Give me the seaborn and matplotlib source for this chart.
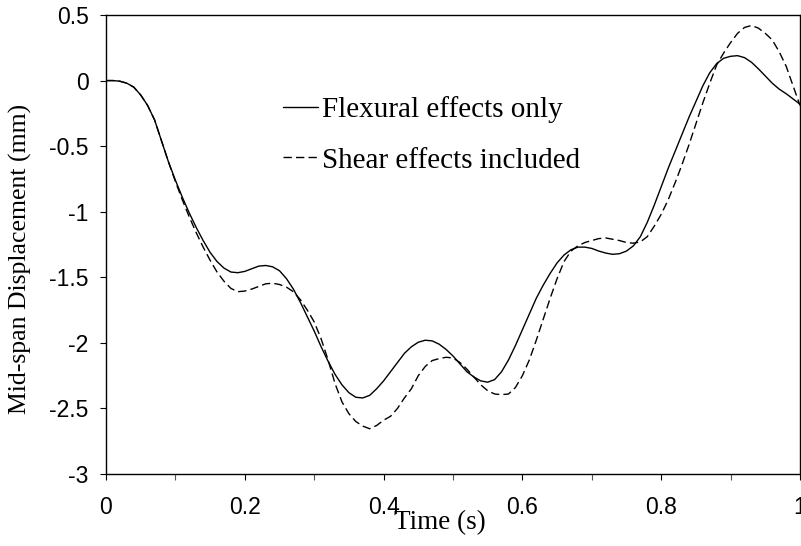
import matplotlib
matplotlib.use("Agg")
import matplotlib.pyplot as plt
import seaborn as sns
import pandas as pd
from matplotlib.ticker import MultipleLocator, FuncFormatter

time_flex = [0.00, 0.01, 0.02, 0.03, 0.04, 0.05, 0.06, 0.07, 0.08, 0.09,
             0.10, 0.11, 0.12, 0.13, 0.14, 0.15, 0.16, 0.17, 0.18, 0.19,
             0.20, 0.21, 0.22, 0.23, 0.24, 0.25, 0.26, 0.27, 0.28, 0.29,
             0.30, 0.31, 0.32, 0.33, 0.34, 0.35, 0.36, 0.37, 0.38, 0.39,
             0.40, 0.41, 0.42, 0.43, 0.44, 0.45, 0.46, 0.47, 0.48, 0.49,
             0.50, 0.51, 0.52, 0.53, 0.54, 0.55, 0.56, 0.57, 0.58, 0.59,
             0.60, 0.61, 0.62, 0.63, 0.64, 0.65, 0.66, 0.67, 0.68, 0.69,
             0.70, 0.71, 0.72, 0.73, 0.74, 0.75, 0.76, 0.77, 0.78, 0.79,
             0.80, 0.81, 0.82, 0.83, 0.84, 0.85, 0.86, 0.87, 0.88, 0.89,
             0.90, 0.91, 0.92, 0.93, 0.94, 0.95, 0.96, 0.97, 0.98, 0.99, 1.00]
flexural_only = [0.000, 0.000, -0.005, -0.02, -0.05, -0.11, -0.19, -0.30, -0.46, -0.62,
                 -0.76, -0.89, -1.01, -1.12, -1.22, -1.31, -1.38, -1.43, -1.46, -1.465,
                 -1.455, -1.435, -1.415, -1.41, -1.42, -1.45, -1.51, -1.59, -1.69, -1.80,
                 -1.91, -2.03, -2.14, -2.24, -2.32, -2.38, -2.415, -2.42, -2.40, -2.35,
                 -2.29, -2.22, -2.15, -2.08, -2.03, -1.995, -1.98, -1.985, -2.01, -2.05,
                 -2.10, -2.16, -2.22, -2.26, -2.29, -2.30, -2.28, -2.22, -2.13, -2.02,
                 -1.90, -1.78, -1.66, -1.56, -1.47, -1.39, -1.33, -1.29, -1.27, -1.27,
                 -1.28, -1.30, -1.315, -1.325, -1.32, -1.30, -1.26, -1.19, -1.08, -0.95,
                 -0.81, -0.67, -0.54, -0.41, -0.28, -0.16, -0.04, 0.06, 0.13, 0.17,
                 0.185, 0.19, 0.175, 0.14, 0.09, 0.035, -0.02, -0.065, -0.10, -0.14, -0.18]

time_shear = time_flex
shear_included = [0.000, 0.000, -0.005, -0.02, -0.05, -0.11, -0.19, -0.30, -0.46, -0.62,
                  -0.77, -0.91, -1.04, -1.16, -1.27, -1.37, -1.46, -1.53, -1.585, -1.61,
                  -1.605, -1.59, -1.57, -1.55, -1.545, -1.555, -1.575, -1.61, -1.67, -1.75,
                  -1.84, -1.97, -2.13, -2.31, -2.45, -2.54, -2.60, -2.635, -2.655, -2.63,
                  -2.59, -2.56, -2.50, -2.42, -2.35, -2.25, -2.18, -2.135, -2.12, -2.11,
                  -2.115, -2.15, -2.20, -2.26, -2.32, -2.365, -2.39, -2.395, -2.39, -2.34,
                  -2.25, -2.13, -1.98, -1.82, -1.66, -1.51, -1.38, -1.30, -1.26, -1.235,
                  -1.22, -1.205, -1.20, -1.21, -1.22, -1.235, -1.24, -1.23, -1.19, -1.11,
                  -1.02, -0.91, -0.78, -0.64, -0.49, -0.33, -0.17, -0.02, 0.12, 0.21,
                  0.29, 0.36, 0.405, 0.42, 0.40, 0.36, 0.31, 0.22, 0.11, -0.04, -0.19]

series_labels = ["Flexural effects only", "Shear effects included"]
x_ticks = [0, 0.2, 0.4, 0.6, 0.8, 1]
y_ticks = [0.5, 0, -0.5, -1, -1.5, -2, -2.5, -3]

sns.set_theme(style="ticks")
plt.rcParams["axes.unicode_minus"] = False
plt.rcParams["font.family"] = ["Liberation Sans", "DejaVu Sans"]

df_flex = pd.DataFrame({"t": time_flex, "v": flexural_only})
df_shear = pd.DataFrame({"t": time_shear, "v": shear_included})

fig = plt.figure(figsize=(8.01, 5.46), dpi=100)
ax = fig.add_axes([106/801, 1 - 474/546, (800 - 106)/801, (474 - 15)/546])

sns.lineplot(data=df_flex, x="t", y="v", ax=ax, color="black", lw=1.0,
             label=series_labels[0], estimator=None, sort=False)
sns.lineplot(data=df_shear, x="t", y="v", ax=ax, color="black", lw=1.0,
             label=series_labels[1], estimator=None, sort=False, dashes=False)
ax.lines[1].set_dashes([6, 3])

ax.set_xlim(0, 1)
ax.set_ylim(-3, 0.5)
ax.set_xticks(x_ticks)
ax.xaxis.set_minor_locator(MultipleLocator(0.1))
ax.set_yticks(y_ticks)
fmt = FuncFormatter(lambda v, p: "%g" % v)
ax.xaxis.set_major_formatter(fmt)
ax.yaxis.set_major_formatter(fmt)

for s in ax.spines.values():
    s.set_visible(True)
    s.set_color("black")
    s.set_linewidth(1.0)

ax.tick_params(axis="both", which="major", direction="out", length=4.5, width=0.8,
               color="black", labelsize=16.5, labelcolor="black")
ax.tick_params(axis="x", which="major", pad=11)
ax.tick_params(axis="y", which="major", pad=8)
ax.tick_params(axis="x", which="minor", direction="out", length=4.5, width=0.8, color="#555555")

serif = ["Liberation Serif", "DejaVu Serif"]
ax.set_xlabel("Time (s)", family=serif, fontsize=19.5, color="black", labelpad=-6)
ax.set_ylabel("Mid-span Displacement (mm)", family=serif, fontsize=18.5, color="black", labelpad=12.5)
ax.xaxis.label.set_x(0.481)
ax.yaxis.label.set_y(0.468)

leg = ax.legend(loc="upper left", bbox_to_anchor=(0.238, 0.849), frameon=False,
                prop={"family": serif, "size": 21}, handlelength=1.2, handletextpad=0.14,
                labelspacing=0.83, borderaxespad=0)
for t in leg.get_texts():
    t.set_color("black")

fig.savefig("out.png", dpi=100)
